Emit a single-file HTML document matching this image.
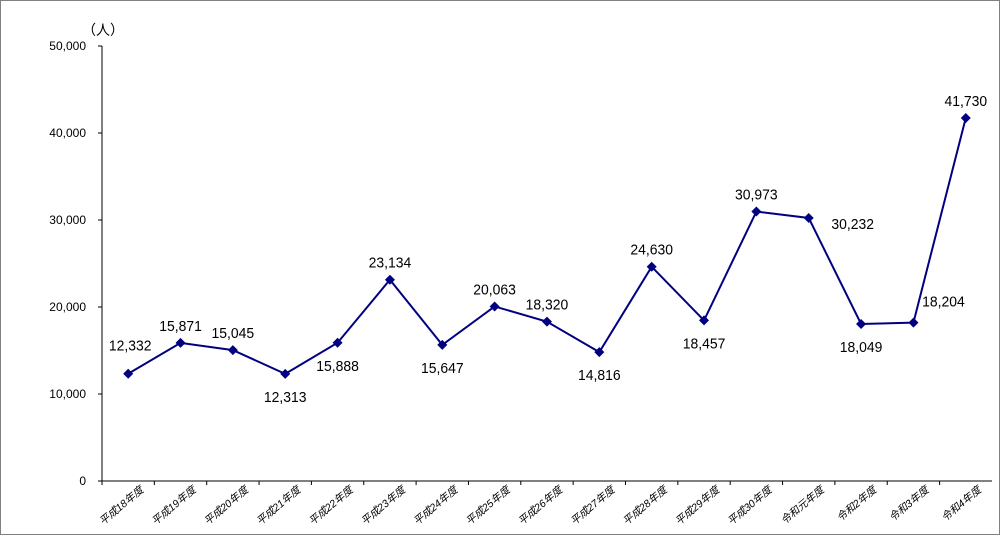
<!DOCTYPE html>
<html><head><meta charset="utf-8"><style>
body{margin:0;background:#fff}
svg{display:block;font-family:"Liberation Sans","Noto Sans CJK JP",sans-serif}
</style></head><body>
<svg id="c" width="1000" height="535">
<rect x="0.5" y="0.5" width="999" height="534" fill="#fff" stroke="#808080"/>
<text x="103" y="35" font-size="14" text-anchor="middle">（人）</text>
</svg>
<script>
const categories=["平成18年度","平成19年度","平成20年度","平成21年度","平成22年度","平成23年度","平成24年度","平成25年度","平成26年度","平成27年度","平成28年度","平成29年度","平成30年度","令和元年度","令和2年度","令和3年度","令和4年度"];
const values=[12332,15871,15045,12313,15888,23134,15647,20063,18320,14816,24630,18457,30973,30232,18049,18204,41730];
const yTicks=[0,10000,20000,30000,40000,50000];
const labelPos=["ul","u","u","d","d","u","d","u","u","d","u","d","u","r","d","ur","u"];
const svg=document.getElementById('c');const NS="http://www.w3.org/2000/svg";
const x0=102,bw=52.35,y0=481,yMax=50000,ph=435;
const X=i=>x0+bw*(i+0.5);const Y=v=>y0-v/yMax*ph;
function mk(t,a,p){const e=document.createElementNS(NS,t);for(const k in a)e.setAttribute(k,a[k]);(p||svg).appendChild(e);return e;}
const fmt=v=>v.toLocaleString('en-US');
let ax=mk('line',{x1:x0,y1:Y(yMax),x2:x0,y2:y0,stroke:'#000'});


let xa=mk('line',{x1:x0,y1:y0,x2:x0+bw*categories.length,y2:y0,stroke:'#000'});


yTicks.forEach(t=>{mk('line',{x1:x0-4,y1:Y(t),x2:x0,y2:Y(t),stroke:'#000'});
const l=mk('text',{x:x0-16,y:Y(t)+4,'font-size':12,'text-anchor':'end'});l.textContent=fmt(t);

});
categories.forEach((c,i)=>{mk('line',{x1:x0+bw*i,y1:y0,x2:x0+bw*i,y2:y0+4,stroke:'#000'});
const tx=X(i)+16,ty=y0+10;
const l=mk('text',{x:tx,y:ty,'font-size':10.5,'text-anchor':'end',transform:`rotate(-40 ${tx} ${ty})`,'font-style':'italic'});l.textContent=c;

});
const line=mk('polyline',{points:values.map((v,i)=>X(i)+','+Y(v)).join(' '),fill:'none',stroke:'#000080','stroke-width':2});


values.forEach((v,i)=>{const x=X(i),y=Y(v);
const m=mk('polygon',{points:`${x},${y-5} ${x+5},${y} ${x},${y+5} ${x-5},${y}`,fill:'#000080'});


const p=labelPos[i];let lx=x,ly=y-12;
if(p==='d')ly=y+28;if(p==='ul'){lx=x+2;ly=y-23;}if(p==='r'){lx=x+44;ly=y+11;}if(p==='ur'){lx=x+30;ly=y-16;}
const t=mk('text',{x:lx,y:ly,'font-size':15,'text-anchor':'middle',transform:`translate(${lx} ${ly}) scale(0.93 1) translate(${-lx} ${-ly})`});t.textContent=fmt(v);

});
</script>
</body></html>
